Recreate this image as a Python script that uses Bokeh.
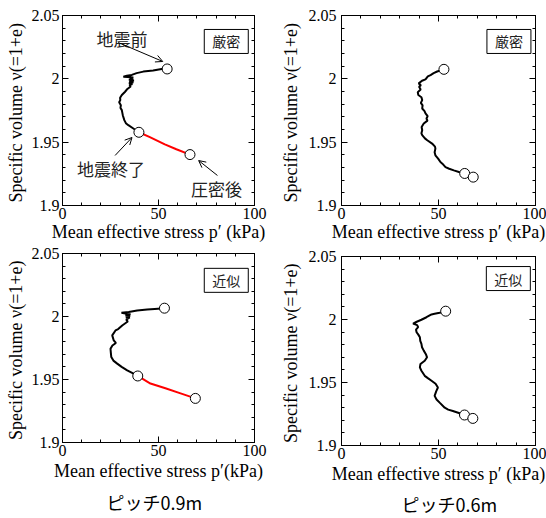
from bokeh.plotting import figure
from bokeh.models import (Range1d, FixedTicker, LinearAxis, Label, Arrow,
                          OpenHead, Title, CustomJSTickFormatter)
from bokeh.layouts import row, column
from bokeh.embed import file_html
from bokeh.resources import INLINE

# ---------------- data ----------------
x_ticks = [0, 50, 100]
x_minor = [0, 10, 20, 30, 40, 50, 60, 70, 80, 90, 100]
y_ticks = [1.9, 1.95, 2.0, 2.05]
y_minor = [1.90, 1.91, 1.92, 1.93, 1.94, 1.95, 1.96, 1.97, 1.98, 1.99,
           2.00, 2.01, 2.02, 2.03, 2.04, 2.05]
y_tick_labels = {1.9: "1.9", 1.95: "1.95", 2.0: "2", 2.05: "2.05"}

# pitch 0.9 m, strict (top-left)
tl_x = [54.5, 51.6, 47.2, 42.1, 38.6, 36.1, 33.5, 31.7, 34.0, 36.9, 35.0, 36.8,
        34.6, 37.2, 34.8, 36.9, 34.6, 36.4, 34.9, 35.5, 33.8, 32.6, 30.9, 30.0,
        30.1, 29.5, 30.4, 30.2, 30.9, 31.4, 32.2, 33.0, 34.3, 36.9, 39.8]
tl_y = [2.0078, 2.0077, 2.0066, 2.0057, 2.0045, 2.0031, 2.0024, 2.0017, 2.0014,
        2.0011, 2.0005, 2.0000, 1.9993, 1.9987, 1.9980, 1.9972, 1.9965, 1.9958,
        1.9950, 1.9940, 1.9920, 1.9898, 1.9872, 1.9850, 1.9832, 1.9815, 1.9792,
        1.9770, 1.9753, 1.9713, 1.9674, 1.9650, 1.9634, 1.9608, 1.9578]
tl_rx = [39.8, 45.5, 53.3, 59.3, 66.4]
tl_ry = [1.9578, 1.9540, 1.9483, 1.9444, 1.9402]
tl_mx = [54.5, 39.8, 66.4]
tl_my = [2.0078, 1.9578, 1.9402]

# pitch 0.6 m, strict (top-right)
tr_x = [52.8, 49.3, 47.5, 45.9, 44.5, 43.3, 41.5, 39.8, 40.9, 40.0, 40.8, 39.3,
        39.6, 41.2, 41.6, 40.9, 41.8, 41.6, 42.8, 43.3, 44.4, 43.8, 44.3, 42.4,
        41.3, 41.6, 41.2, 41.6, 43.0, 44.2, 46.7, 48.2, 48.4, 48.0, 48.4, 49.8,
        51.0, 52.0, 53.6, 55.5, 57.9, 60.5, 63.5]
tr_y = [2.0075, 2.0058, 2.0045, 2.0030, 2.0020, 1.9996, 1.9985, 1.9964, 1.9950,
        1.9937, 1.9915, 1.9895, 1.9872, 1.9855, 1.9832, 1.9810, 1.9790, 1.9766,
        1.9745, 1.9727, 1.9705, 1.9687, 1.9670, 1.9647, 1.9620, 1.9594, 1.9570,
        1.9555, 1.9530, 1.9515, 1.9489, 1.9465, 1.9449, 1.9420, 1.9396, 1.9370,
        1.9343, 1.9330, 1.9303, 1.9290, 1.9277, 1.9265, 1.9253]
tr_rx = [63.5, 67.9]
tr_ry = [1.9253, 1.9224]
tr_mx = [52.8, 63.5, 67.9]
tr_my = [2.0075, 1.9253, 1.9224]

# pitch 0.9 m, approximate (bottom-left)
bl_x = [53.1, 48.0, 44.1, 38.9, 34.5, 30.7, 33.5, 35.4, 32.8, 35.2, 33.0, 35.0,
        33.2, 34.0, 31.1, 29.0, 27.6, 25.9, 26.7, 27.8, 26.0, 25.0, 25.2, 25.4,
        26.5, 28.5, 30.8, 33.7, 36.5, 39.2]
bl_y = [2.0066, 2.0060, 2.0055, 2.0048, 2.0035, 2.0029, 2.0022, 2.0018, 2.0008,
        2.0006, 1.9995, 1.9993, 1.9975, 1.9960, 1.9929, 1.9900, 1.9889, 1.9850,
        1.9810, 1.9790, 1.9770, 1.9744, 1.9710, 1.9679, 1.9650, 1.9626, 1.9600,
        1.9572, 1.9550, 1.9528]
bl_rx = [39.2, 45.8, 53.6, 61.5, 69.2]
bl_ry = [1.9528, 1.9468, 1.9430, 1.9390, 1.9350]
bl_mx = [53.1, 39.2, 69.2]
bl_my = [2.0066, 1.9528, 1.9350]

# pitch 0.6 m, approximate (bottom-right)
br_x = [53.7, 50.6, 48.0, 46.4, 43.8, 41.2, 38.5, 36.9, 39.0, 39.5, 38.4, 38.7,
        39.6, 40.4, 40.6, 41.2, 41.5, 42.4, 43.5, 44.1, 42.9, 40.7, 40.4, 41.2,
        42.9, 44.5, 46.4, 48.5, 49.7, 48.8, 48.0, 49.0, 50.6, 53.2, 55.0, 57.4,
        60.5, 63.4]
br_y = [2.0066, 2.0053, 2.0045, 2.0040, 2.0018, 1.9998, 1.9980, 1.9968, 1.9955,
        1.9939, 1.9920, 1.9899, 1.9880, 1.9859, 1.9830, 1.9806, 1.9780, 1.9753,
        1.9725, 1.9700, 1.9673, 1.9647, 1.9620, 1.9593, 1.9553, 1.9535, 1.9514,
        1.9490, 1.9460, 1.9430, 1.9394, 1.9365, 1.9340, 1.9300, 1.9285, 1.9274,
        1.9258, 1.9242]
br_rx = [63.4, 67.7]
br_ry = [1.9242, 1.9215]
br_mx = [53.7, 63.4, 67.7]
br_my = [2.0066, 1.9242, 1.9215]

xlabel_a = "Mean effective stress p′ (kPa)"
xlabel_b = "Mean effective stress p′(kPa)"
ylabel = "Specific volume  ν(=1+e)"
method_strict = "厳密"
method_approx = "近似"
pitch_09 = "ピッチ0.9m"
pitch_06 = "ピッチ0.6m"
note_before = "地震前"
note_end = "地震終了"
note_after = "圧密後"

SERIF = "Liberation Serif"
CJK = "Noto Sans CJK JP"


def style_axis(ax):
    ax.axis_line_color = "black"
    ax.axis_line_width = 1
    ax.major_tick_in = 6
    ax.major_tick_out = 0
    ax.minor_tick_in = 3
    ax.minor_tick_out = 0
    ax.major_tick_line_color = "black"
    ax.minor_tick_line_color = "black"
    ax.major_label_text_font = SERIF
    ax.major_label_text_font_size = "16px"
    ax.major_label_text_color = "black"
    ax.axis_label_text_font = SERIF
    ax.axis_label_text_font_size = "18px"
    ax.axis_label_text_font_style = "normal"
    ax.axis_label_text_color = "black"


def make_panel(width, height, mbl, mbr, mbt, mbb, ytick_so, ylab_so, xlab_so,
               xlabel, xs, ys, rxs, rys, mxs, mys, method, box_x, box_y):
    p = figure(width=width, height=height, x_range=Range1d(0, 100),
               y_range=Range1d(1.9, 2.05), output_backend="svg",
               toolbar_location=None, min_border_left=mbl,
               min_border_right=mbr, min_border_top=mbt,
               min_border_bottom=mbb)
    p.grid.visible = False
    p.outline_line_color = "black"
    p.outline_line_width = 1
    p.background_fill_color = "white"
    p.border_fill_color = "white"
    xt = FixedTicker(ticks=x_ticks, minor_ticks=x_minor)
    yt = FixedTicker(ticks=y_ticks, minor_ticks=y_minor)
    p.xaxis.ticker = xt
    p.yaxis.ticker = yt
    p.xaxis.axis_label = xlabel
    p.yaxis.axis_label = ylabel
    p.yaxis.major_label_overrides = y_tick_labels
    for ax in list(p.xaxis) + list(p.yaxis):
        style_axis(ax)
    p.xaxis.major_label_standoff = 2
    p.xaxis.axis_label_standoff = xlab_so
    p.yaxis.major_label_standoff = ytick_so
    p.yaxis.axis_label_standoff = ylab_so
    blank = CustomJSTickFormatter(code="return ''")
    top = LinearAxis(ticker=xt, formatter=blank, major_label_standoff=0)
    right = LinearAxis(ticker=yt, formatter=blank, major_label_standoff=0)
    for ax in (top, right):
        style_axis(ax)
    p.add_layout(top, "above")
    p.add_layout(right, "right")

    p.line(xs, ys, line_color="black", line_width=2)
    p.line(rxs, rys, line_color="red", line_width=2)
    p.scatter(mxs, mys, size=10, fill_color="white", line_color="black",
              line_width=1)

    p.add_layout(Label(x=box_x, y=box_y, text=method, text_font=CJK,
                       text_font_size="14px", text_align="center",
                       text_baseline="middle", text_color="#222222",
                       background_fill_color="white",
                       border_line_color="black", border_line_width=1,
                       padding=dict(left=8, right=8, top=2, bottom=2)))
    return p


tl = make_panel(273, 245, 62, 18, 15, 40, 3, 3, 0, xlabel_a, tl_x, tl_y,
                tl_rx, tl_ry, tl_mx, tl_my, method_strict, 85.3, 2.0295)
tr = make_panel(273, 245, 68, 11, 15, 40, 5, 5, 0, xlabel_a, tr_x, tr_y,
                tr_rx, tr_ry, tr_mx, tr_my, method_strict, 86.3, 2.0295)
bl = make_panel(273, 273, 62, 19, 8, 75, 3, 3, 2, xlabel_b, bl_x, bl_y,
                bl_rx, bl_ry, bl_mx, bl_my, method_approx, 85.3, 2.0287)
br = make_panel(273, 273, 68, 10, 11, 73, 5, 5, 2, xlabel_a, br_x, br_y,
                br_rx, br_ry, br_mx, br_my, method_approx, 86.0, 2.0325)

# annotations on the top-left panel
for txt, x, y in ((note_before, 31.0, 2.0318), (note_end, 25.3, 1.9292),
                  (note_after, 80.2, 1.9134)):
    tl.add_layout(Label(x=x, y=y, text=txt, text_font=CJK,
                        text_font_size="17px", text_align="center",
                        text_baseline="middle", text_color="#222222"))
for xs0, ys0, xe, ye in ((29.0, 2.0287, 52.2, 2.0137),
                         (27.4, 1.9395, 36.2, 1.9537),
                         (80.7, 1.9237, 70.9, 1.9355)):
    tl.add_layout(Arrow(end=OpenHead(size=7, line_width=1, line_color="black"),
                        x_start=xs0, y_start=ys0, x_end=xe, y_end=ye,
                        line_width=1, line_color="black"))

# pitch captions under the bottom panels
bl.add_layout(Title(text=pitch_09, align="left", text_font=CJK,
                    text_font_size="18px", text_font_style="normal",
                    text_color="black", offset=44, standoff=7), "below")
br.add_layout(Title(text=pitch_06, align="left", text_font=CJK,
                    text_font_size="18px", text_font_style="normal",
                    text_color="black", offset=60, standoff=4), "below")

layout = row(column(tl, bl), column(tr, br))
open("out.html", "w").write(file_html(layout, INLINE))
